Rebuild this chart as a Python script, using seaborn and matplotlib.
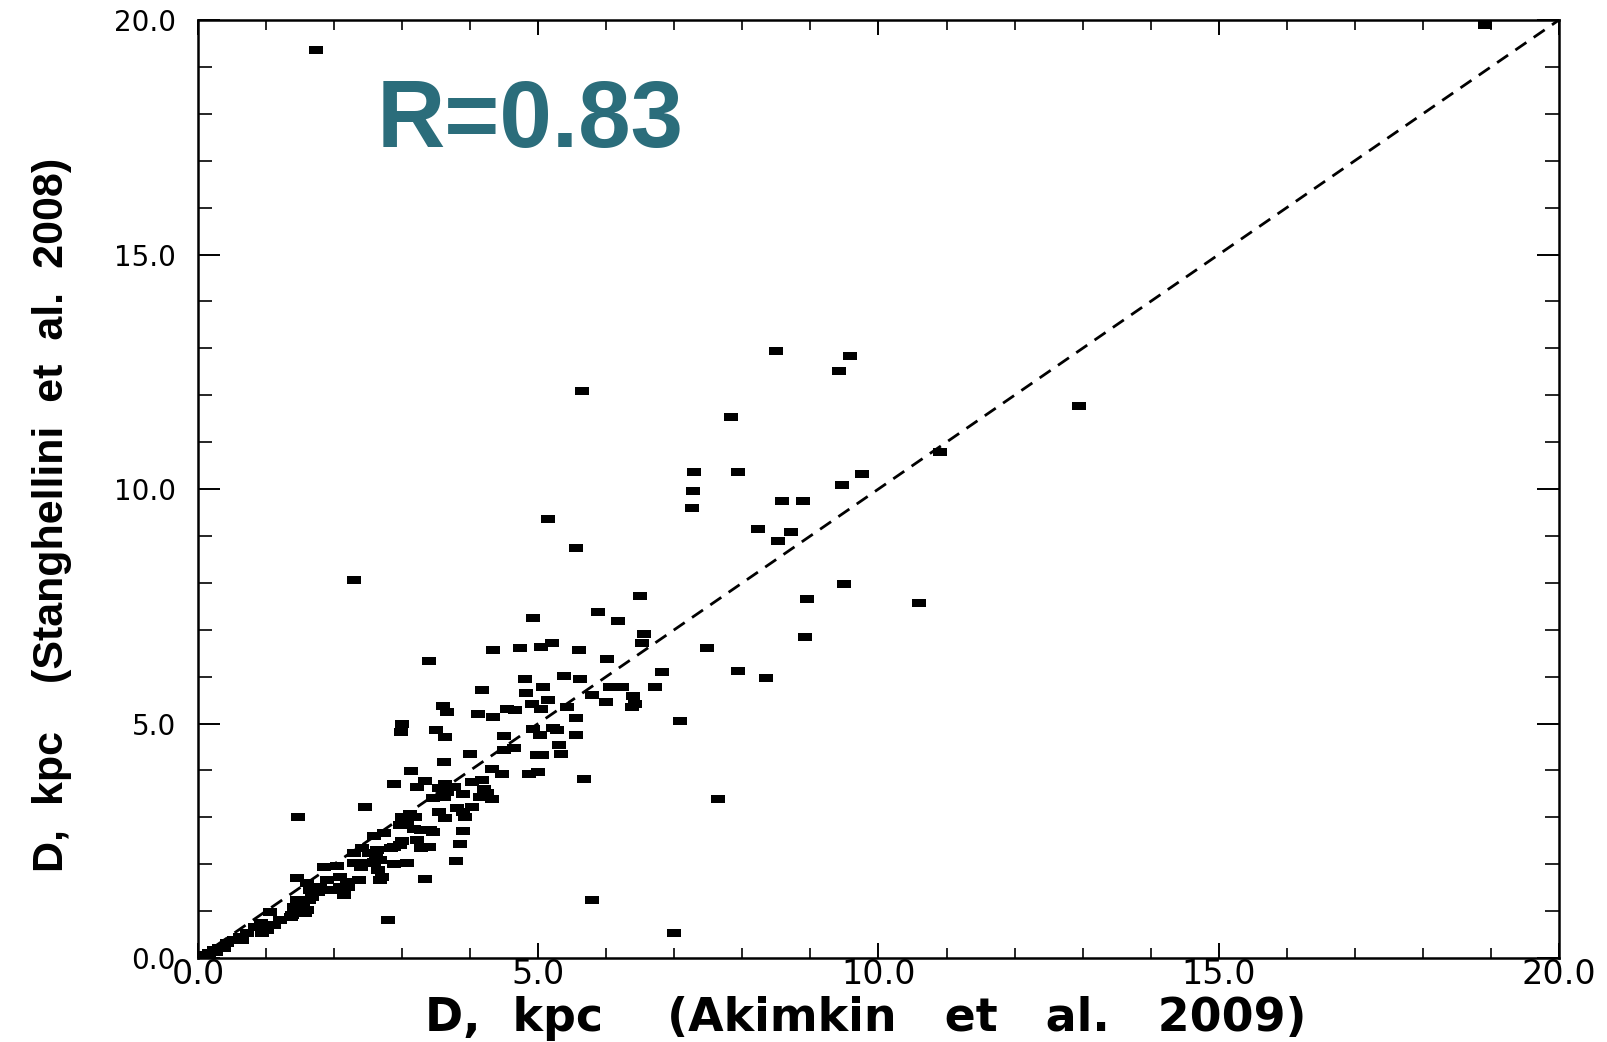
import matplotlib
matplotlib.use("Agg")
import matplotlib.pyplot as plt
from matplotlib.ticker import MultipleLocator, FormatStrFormatter
import seaborn as sns
import pandas as pd

# Distances of planetary nebulae, kpc
d_akimkin = [
    18.92, 1.74, 5.64, 8.50, 9.58, 9.42, 12.94, 7.84, 10.90, 7.29,
    7.93, 9.76, 9.47, 7.27, 7.26, 8.58, 8.89, 5.14, 8.23, 8.72,
    8.53, 5.56, 2.30, 9.49, 6.50, 8.95, 10.60, 4.92, 5.88, 6.17,
    6.55, 6.53, 8.92, 4.73, 5.04, 5.20, 5.60, 7.48, 6.01, 6.82,
    7.93, 8.35, 5.38, 5.62, 4.80, 5.07, 4.82, 5.14, 4.91, 5.04,
    4.54, 4.66, 5.79, 6.06, 6.23, 6.00, 6.40, 6.42, 6.38, 6.72,
    5.42, 5.56, 5.56, 7.09, 5.22, 4.93, 5.03, 5.27, 5.30, 5.34,
    4.98, 5.05, 4.49, 4.64, 4.49, 7.64, 5.67, 5.79, 7.00, 2.79,
    1.47, 3.40, 2.45, 4.34, 4.17, 3.60, 3.66, 4.12, 4.33, 3.00,
    2.98, 3.50, 3.63, 4.00, 4.32, 4.47, 4.86, 5.00, 3.61, 3.13,
    2.88, 3.34, 3.22, 3.54, 3.66, 3.76, 3.63, 3.66, 3.46, 3.61,
    3.90, 4.03, 4.17, 4.20, 4.15, 4.32, 4.25, 3.81, 3.90, 4.03,
    3.54, 3.63, 3.93, 3.90, 3.85, 3.79, 3.33, 3.00, 3.12, 3.19,
    2.97, 3.07, 3.17, 3.27, 3.41, 3.46, 3.22, 3.39, 3.27, 2.58,
    2.73, 2.88, 2.97, 3.00, 2.88, 3.07, 2.68, 2.70, 2.29, 2.41,
    2.51, 2.63, 2.61, 2.83, 2.65, 2.29, 2.39, 2.48, 2.58, 1.85,
    2.04, 2.09, 2.19, 2.09, 2.14, 1.90, 1.95, 1.80, 2.21, 2.36,
    1.46, 1.60, 1.65, 1.77, 1.46, 1.55, 1.41, 1.60, 1.63, 1.58,
    1.38, 1.68, 1.06, 0.92, 1.02, 0.84, 1.11, 1.21, 1.36, 0.94,
    0.62, 0.72, 0.43, 0.53, 0.65, 0.23, 0.38, 0.31, 0.26, 0.16,
    0.09, 2.68,
]
d_stanghellini = [
    19.90, 19.36, 12.10, 12.94, 12.83, 12.51, 11.78, 11.54, 10.78, 10.37,
    10.36, 10.32, 10.08, 9.95, 9.60, 9.74, 9.74, 9.37, 9.15, 9.09,
    8.90, 8.74, 8.07, 7.97, 7.71, 7.65, 7.58, 7.25, 7.37, 7.18,
    6.91, 6.72, 6.84, 6.62, 6.63, 6.72, 6.57, 6.61, 6.38, 6.09,
    6.11, 5.97, 6.01, 5.94, 5.95, 5.77, 5.65, 5.51, 5.42, 5.32,
    5.30, 5.28, 5.61, 5.78, 5.78, 5.46, 5.58, 5.42, 5.35, 5.78,
    5.35, 5.12, 4.75, 5.06, 4.90, 4.88, 4.75, 4.86, 4.54, 4.36,
    4.32, 4.32, 4.73, 4.47, 4.43, 3.39, 3.82, 1.24, 0.53, 0.81,
    3.01, 6.33, 3.22, 6.57, 5.71, 5.38, 5.25, 5.21, 5.13, 5.00,
    4.82, 4.87, 4.71, 4.36, 4.04, 3.92, 3.93, 3.96, 4.18, 3.98,
    3.70, 3.77, 3.65, 3.63, 3.63, 3.65, 3.72, 3.54, 3.41, 3.44,
    3.49, 3.75, 3.79, 3.61, 3.44, 3.39, 3.51, 3.19, 3.12, 3.22,
    3.12, 2.98, 3.01, 2.70, 2.44, 2.07, 1.68, 3.01, 3.08, 3.01,
    2.83, 2.87, 2.76, 2.73, 2.73, 2.69, 2.51, 2.37, 2.34, 2.60,
    2.66, 2.37, 2.41, 2.50, 2.00, 2.02, 2.10, 1.73, 2.24, 2.34,
    2.23, 2.30, 2.16, 2.34, 1.87, 2.02, 1.94, 2.02, 2.05, 1.94,
    1.97, 1.73, 1.63, 1.52, 1.34, 1.66, 1.45, 1.52, 1.52, 1.66,
    1.70, 1.59, 1.45, 1.41, 1.24, 1.17, 1.09, 1.02, 1.24, 0.95,
    0.92, 1.31, 0.99, 0.74, 0.60, 0.67, 0.70, 0.81, 0.88, 0.53,
    0.45, 0.53, 0.31, 0.38, 0.38, 0.17, 0.21, 0.21, 0.13, 0.10,
    0.06, 1.66,
]

axis_limits = [0.0, 20.0]
correlation_label = "R=0.83"
x_title = "D,  kpc    (Akimkin   et   al.   2009)"
y_title = "D,  kpc    (Stanghellini  et  al.  2008)"

df = pd.DataFrame({"akimkin": d_akimkin, "stanghellini": d_stanghellini})

sns.set_theme(style="ticks")
plt.rcParams["font.family"] = ["DejaVu Sans"]

fig = plt.figure(figsize=(16.07, 10.42), dpi=100)
fig.patch.set_facecolor("white")
ax = fig.add_axes([0.1232, 0.0806, 0.8469, 0.9002])
ax.set_facecolor("white")

# one-to-one reference line
ax.plot(axis_limits, axis_limits, color="black", lw=2.0,
        linestyle=(0, (4.8, 3.2)), zorder=1)

# small flat rectangles as markers
rect = [(-1.6, -1.0), (1.6, -1.0), (1.6, 1.0), (-1.6, 1.0), (-1.6, -1.0)]
sns.scatterplot(data=df, x="akimkin", y="stanghellini", ax=ax,
                marker=rect, s=88, color="black", linewidth=0,
                edgecolor="black", zorder=3, legend=False)

ax.set_xlim(axis_limits)
ax.set_ylim(axis_limits)

for sp in ax.spines.values():
    sp.set_linewidth(1.8)
    sp.set_color("black")
    sp.set_visible(True)

ax.xaxis.set_major_locator(MultipleLocator(5))
ax.xaxis.set_minor_locator(MultipleLocator(1))
ax.yaxis.set_major_locator(MultipleLocator(5))
ax.yaxis.set_minor_locator(MultipleLocator(1))
ax.xaxis.set_major_formatter(FormatStrFormatter("%.1f"))
ax.yaxis.set_major_formatter(FormatStrFormatter("%.1f"))

ax.tick_params(axis="x", which="major", direction="in", length=11, width=1.4,
               top=True, bottom=True, pad=0, labelsize=24, colors="black")
ax.tick_params(axis="x", which="minor", direction="in", length=7, width=1.4,
               top=True, bottom=True)
ax.tick_params(axis="y", which="major", direction="in", length=16, width=1.4,
               left=True, right=True, pad=16, labelsize=20, colors="black")
ax.tick_params(axis="y", which="minor", direction="in", length=10, width=1.4,
               left=True, right=True)

ax.set_xlabel(x_title, fontsize=33, fontweight="bold",
              family=["DejaVu Sans"], color="black")
ax.xaxis.set_label_coords(0.491, -0.0778)
ax.xaxis.label.set_va("baseline")

ax.set_ylabel(y_title, fontsize=31, fontweight="bold",
              family=["Liberation Sans", "DejaVu Sans"], color="black")
ax.yaxis.set_label_coords(-0.107, 0.472)
ax.yaxis.label.set_va("center")

ax.text(2.62, 17.30, correlation_label, fontsize=68, fontweight="bold",
        family=["Liberation Sans", "DejaVu Sans"], color="#2b6d7b",
        ha="left", va="baseline", zorder=4)

fig.savefig("out.png", dpi=100, facecolor="white")
